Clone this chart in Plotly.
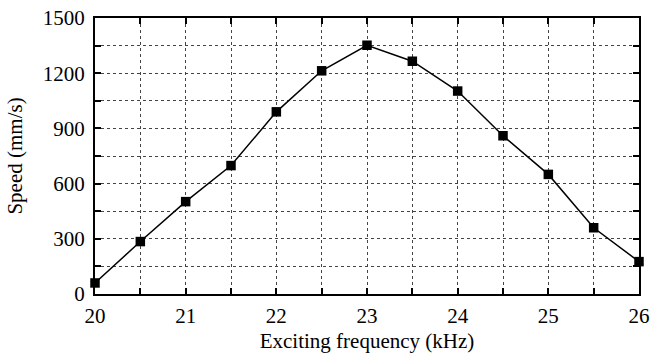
import plotly.graph_objects as go

freq = [20, 20.5, 21, 21.5, 22, 22.5, 23, 23.5, 24, 24.5, 25, 25.5, 26]
speed = [60, 285, 502, 698, 990, 1213, 1352, 1265, 1103, 860, 650, 360, 176]

x_tickvals = [20, 20.5, 21, 21.5, 22, 22.5, 23, 23.5, 24, 24.5, 25, 25.5, 26]
x_ticktext = ["20", "", "21", "", "22", "", "23", "", "24", "", "25", "", "26"]
y_tickvals = [0, 150, 300, 450, 600, 750, 900, 1050, 1200, 1350, 1500]
y_ticktext = ["0", "", "300", "", "600", "", "900", "", "1200", "", "1500"]

font = dict(family="Liberation Serif, Times New Roman, serif", size=21, color="black")

fig = go.Figure()
fig.add_trace(go.Scatter(
    x=freq, y=speed, mode="lines+markers",
    line=dict(color="black", width=1.5),
    marker=dict(symbol="square", size=9.5, color="black"),
    showlegend=False, cliponaxis=False,
))

axis_common = dict(
    showline=True, linecolor="black", linewidth=2, mirror="ticks",
    ticks="inside", ticklen=6, tickwidth=1.5, tickcolor="black",
    showgrid=True, gridcolor="#444444", gridwidth=1, griddash="dot",
    zeroline=False, tickfont=font, automargin=False,
)

fig.update_layout(
    width=653, height=357,
    margin=dict(l=95, r=14, t=18, b=63),
    paper_bgcolor="white", plot_bgcolor="white",
    font=font,
    xaxis=dict(range=[20, 26], tickmode="array", tickvals=x_tickvals, ticktext=x_ticktext,
               ticklabelstandoff=2,
               title=dict(text="Exciting frequency (kHz)", font=font, standoff=6), **axis_common),
    yaxis=dict(range=[0, 1500], tickmode="array", tickvals=y_tickvals, ticktext=y_ticktext,
               ticklabelstandoff=4,
               title=dict(text="Speed (mm/s)", font=font, standoff=14), **axis_common),
)

fig.write_html("out.html")
